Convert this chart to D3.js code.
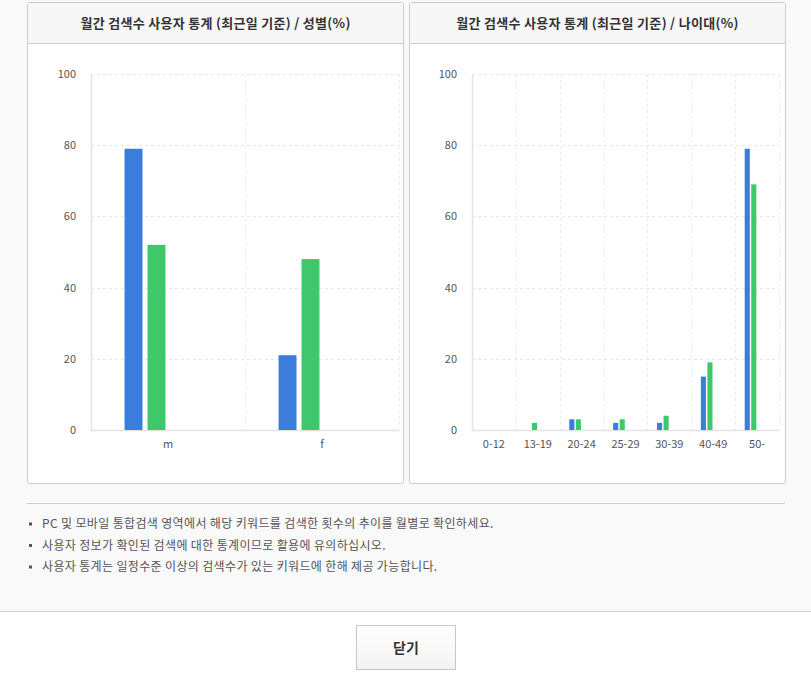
<!DOCTYPE html>
<html>
<head>
<meta charset="utf-8">
<script src="https://cdn.jsdelivr.net/npm/d3@7/dist/d3.min.js"></script>
<style>
    html, body { margin: 0; padding: 0; background: #ffffff; }
    body { width: 811px; height: 676px; overflow: hidden; }
    svg text { font-family: "Noto Sans CJK KR", "Noto Sans", sans-serif; }
</style>
</head>
<body>
<svg id="vis" width="811" height="676"></svg>
<script>
/**
 * chart data
 */
const GENDER_CATEGORIES = ["m", "f"];
const GENDER_PC = [79, 21];
const GENDER_MOBILE = [52, 48];

const AGE_CATEGORIES = ["0-12", "13-19", "20-24", "25-29", "30-39", "40-49", "50-"];
const AGE_PC = [0, 0, 3, 2, 2, 15, 79];
const AGE_MOBILE = [0, 2, 3, 3, 4, 19, 69];

const Y_TICKS = [0, 20, 40, 60, 80, 100];

// the library reserves four slots per category, only two are filled
const SLOTS = ["pc", "mobile", "slot3", "slot4"];
const COLORS = {pc: "#3b7ddd", mobile: "#3ec76b"};

const NOTES = [
    "PC 및 모바일 통합검색 영역에서 해당 키워드를 검색한 횟수의 추이를 월별로 확인하세요.",
    "사용자 정보가 확인된 검색에 대한 통계이므로 활용에 유의하십시오.",
    "사용자 통계는 일정수준 이상의 검색수가 있는 키워드에 한해 제공 가능합니다."
];

const svg = d3.select("#vis");

// grey upper area
svg.append("rect").attr("x", 0).attr("y", 0).attr("width", 811).attr("height", 611).attr("fill", "#f9f9f9");
svg.append("line").attr("x1", 0).attr("x2", 811).attr("y1", 611.5).attr("y2", 611.5).attr("stroke", "#cfcfcf");

function drawPanel(px, title, categories, pc, mobile, plotLeft, plotRight){
    const g = svg.append("g");
    const pw = 377, ph = 482;

    g.append("rect").attr("x", px + 0.5).attr("y", 2.5).attr("width", pw - 1).attr("height", ph - 1)
        .attr("rx", 2).attr("fill", "#ffffff").attr("stroke", "#cccccc");
    g.append("rect").attr("x", px + 1).attr("y", 3).attr("width", pw - 2).attr("height", 40).attr("fill", "#f7f7f7");
    g.append("line").attr("x1", px + 1).attr("x2", px + pw - 1).attr("y1", 43.5).attr("y2", 43.5).attr("stroke", "#cccccc");
    g.append("text").attr("x", px + pw / 2).attr("y", 28)
        .attr("text-anchor", "middle").attr("font-size", "13px").attr("font-weight", "bold")
        .attr("letter-spacing", "0.3px").attr("fill", "#333").text(title);

    const y = d3.scaleLinear().domain([0, 100]).range([430, 74]);
    const x0 = d3.scaleBand().domain(categories).range([plotLeft, plotRight]);
    const x1 = d3.scaleBand().domain(SLOTS).range([0, x0.bandwidth()])
        .paddingInner(0.22).paddingOuter(1.46);

    // horizontal grid
    g.append("g").selectAll("line").data(Y_TICKS.filter(d => d > 0)).enter().append("line")
        .attr("x1", plotLeft).attr("x2", plotRight)
        .attr("y1", d => Math.round(y(d)) + 0.5).attr("y2", d => Math.round(y(d)) + 0.5)
        .attr("stroke", "#e6e6e6").attr("stroke-dasharray", "3,3");

    // vertical grid at category boundaries and right edge
    const bounds = categories.slice(1).map(c => x0(c)).concat([plotRight]);
    g.append("g").selectAll("line").data(bounds).enter().append("line")
        .attr("x1", d => Math.round(d) + 0.5).attr("x2", d => Math.round(d) + 0.5)
        .attr("y1", y(100)).attr("y2", y(0))
        .attr("stroke", "#ececec").attr("stroke-dasharray", "3,3");

    // axis lines
    g.append("line").attr("x1", plotLeft + 0.5).attr("x2", plotLeft + 0.5).attr("y1", y(100)).attr("y2", y(0) + 1)
        .attr("stroke", "#e3e3e3").attr("stroke-width", 1.5);
    g.append("line").attr("x1", plotLeft).attr("x2", plotRight).attr("y1", y(0) + 0.5).attr("y2", y(0) + 0.5)
        .attr("stroke", "#e3e3e3").attr("stroke-width", 1.5);

    // y tick labels
    g.append("g").selectAll("text").data(Y_TICKS).enter().append("text")
        .attr("x", plotLeft - 15).attr("y", d => y(d) + 4)
        .attr("text-anchor", "end").attr("font-size", "11px").attr("fill", "#555")
        .text(d => d);

    // x category labels
    g.append("g").selectAll("text").data(categories).enter().append("text")
        .attr("x", d => x0(d) + x0.bandwidth() / 2).attr("y", 448)
        .attr("text-anchor", "middle").attr("font-size", "11px").attr("fill", "#555")
        .text(d => d);

    // bars
    const rows = categories.map((c, i) => ({cat: c, pc: pc[i], mobile: mobile[i]}));
    const groups = g.append("g").selectAll("g").data(rows).enter().append("g")
        .attr("transform", d => `translate(${x0(d.cat)},0)`);
    groups.selectAll("rect")
        .data(d => ["pc", "mobile"].map(k => ({key: k, value: d[k]})))
        .enter().append("rect")
        .attr("x", d => x1(d.key))
        .attr("width", x1.bandwidth())
        .attr("y", d => y(d.value))
        .attr("height", d => y(0) - y(d.value))
        .attr("fill", d => COLORS[d.key]);
}

drawPanel(27, "월간 검색수 사용자 통계 (최근일 기준) / 성별(%)", GENDER_CATEGORIES, GENDER_PC, GENDER_MOBILE, 91, 399);
drawPanel(409, "월간 검색수 사용자 통계 (최근일 기준) / 나이대(%)", AGE_CATEGORIES, AGE_PC, AGE_MOBILE, 472, 779);

// notes
svg.append("line").attr("x1", 27).attr("x2", 785).attr("y1", 503.5).attr("y2", 503.5).attr("stroke", "#cccccc");
const notes = svg.append("g").selectAll("g").data(NOTES).enter().append("g")
    .attr("transform", (d, i) => `translate(0, ${524 + i * 21.5})`);
notes.append("rect").attr("x", 29).attr("y", -1.5).attr("width", 3).attr("height", 3).attr("fill", "#555");
notes.append("text").attr("x", 42).attr("y", 4).attr("font-size", "12px")
    .attr("letter-spacing", "0.35px").attr("fill", "#555").text(d => d);

// close button
const grad = svg.append("defs").append("linearGradient").attr("id", "btnGrad")
    .attr("x1", 0).attr("x2", 0).attr("y1", 0).attr("y2", 1);
grad.append("stop").attr("offset", "0%").attr("stop-color", "#ffffff");
grad.append("stop").attr("offset", "100%").attr("stop-color", "#f3f3f3");
svg.append("rect").attr("x", 356.5).attr("y", 625.5).attr("width", 99).attr("height", 44)
    .attr("fill", "url(#btnGrad)").attr("stroke", "#c8c8c8");
svg.append("text").attr("x", 406).attr("y", 653).attr("text-anchor", "middle")
    .attr("font-size", "14px").attr("font-weight", "bold").attr("fill", "#333").text("닫기");
</script>
</body>
</html>
